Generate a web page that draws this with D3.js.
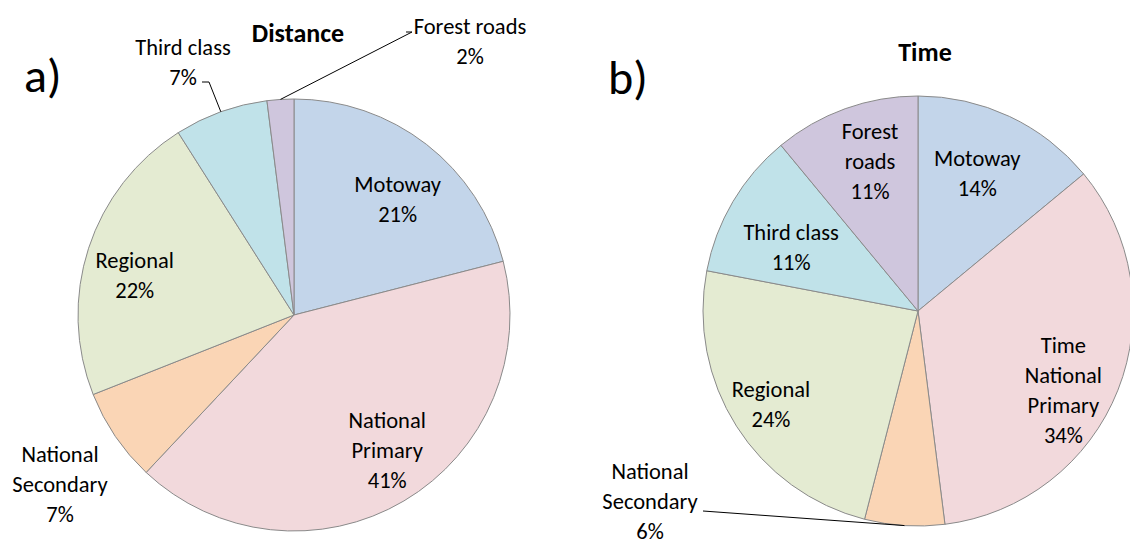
<!DOCTYPE html>
<html><head><meta charset="utf-8">
<script src="https://cdn.jsdelivr.net/npm/d3@7"></script>
<style>
html,body{margin:0;padding:0;background:#fff;}
svg text{font-family:Carlito,Calibri,Lato,"Noto Sans",sans-serif;fill:#000;}
</style></head>
<body>
<svg id="chart" width="1130" height="545"></svg>
<script>
const categories = ["Motoway","National Primary","National Secondary","Regional","Third class","Forest roads"];
const distanceValues = [21, 41, 7, 22, 7, 2];
const timeValues = [14, 34, 6, 24, 11, 11];
const colors = ["#c3d5ea","#f2d9dc","#fad5b5","#e4ebd2","#c0e2e9","#cfc6dd"];

// label lines per slice (percent appended from data)
const distanceLabels = [["Motoway"],["National","Primary"],["National","Secondary"],["Regional"],["Third class"],["Forest roads"]];
const timeLabels = [["Motoway"],["Time","National","Primary"],["National","Secondary"],["Regional"],["Third class"],["Forest","roads"]];

const svg = d3.select("#chart");
const FS = 22.5, LH = 30;

function drawPie(cfg){
  const g = svg.append("g").attr("transform",`translate(${cfg.cx},${cfg.cy})`);
  const pie = d3.pie().sort(null).value(d=>d);
  const arcs = pie(cfg.values);
  const arc = d3.arc().innerRadius(0).outerRadius(cfg.r);
  g.selectAll("path").data(arcs).enter().append("path")
    .attr("d",arc).attr("fill",(d,i)=>colors[i])
    .attr("stroke","#8a8a8a").attr("stroke-width",1);
  arcs.forEach((a,i)=>{
    const lines = cfg.labels[i].concat([cfg.values[i]+"%"]);
    const mid = (a.startAngle+a.endAngle)/2 + (cfg.labelShift[i]||0)*Math.PI/180;
    let lx, ly;
    const ext = cfg.outside[i];
    if(ext){
      lx = ext.x - cfg.cx; ly = ext.y - cfg.cy;
      if(ext.line){
        const m0 = (a.startAngle+a.endAngle)/2;
        const px = Math.sin(m0)*cfg.r, py = -Math.cos(m0)*cfg.r;
        g.append("polyline")
          .attr("points", ext.line.map(p=>[p[0]-cfg.cx,p[1]-cfg.cy].join(",")).concat([[px,py].join(",")]).join(" "))
          .attr("fill","none").attr("stroke","#000").attr("stroke-width",1);
      }
    } else {
      const rr = cfg.r*cfg.labelR[i];
      lx = Math.sin(mid)*rr; ly = -Math.cos(mid)*rr;
    }
    const t = g.append("text").attr("text-anchor","middle").attr("font-size",FS);
    const n = lines.length;
    lines.forEach((s,k)=>{
      t.append("tspan").attr("x",lx).attr("y",ly + (k-(n-1)/2)*LH).attr("dy","0.35em").text(s);
    });
  });
}

drawPie({
  cx:294, cy:315, r:216, values:distanceValues, labels:distanceLabels,
  labelR:[0.72,0.76,0,0.76,0,0],
  labelShift:[4,-4,0,-4,0,0],
  outside:[null,null,
    {x:60,y:484},
    null,
    {x:183,y:62,line:[[202,82],[209,82]]},
    {x:470,y:41,line:[[406,32],[412,32]]}]
});
drawPie({
  cx:918, cy:311, r:215, values:timeValues, labels:timeLabels,
  labelR:[0.70,0.77,0,0.81,0.66,0.73],
  labelShift:[-2,7,0,0,-4,2],
  outside:[null,null,
    {x:650,y:501,line:[[703,511]]},
    null,null,null]
});

svg.append("text").attr("x",298).attr("y",33).attr("dy","0.35em").attr("text-anchor","middle")
  .attr("font-size",26).attr("font-weight","bold").text("Distance");
svg.append("text").attr("x",925).attr("y",52).attr("dy","0.35em").attr("text-anchor","middle")
  .attr("font-size",26).attr("font-weight","bold").text("Time");
svg.append("text").attr("x",24).attr("y",92).attr("font-size",48).text("a)");
svg.append("text").attr("x",608).attr("y",94).attr("font-size",48).text("b)");
</script>
</body></html>
